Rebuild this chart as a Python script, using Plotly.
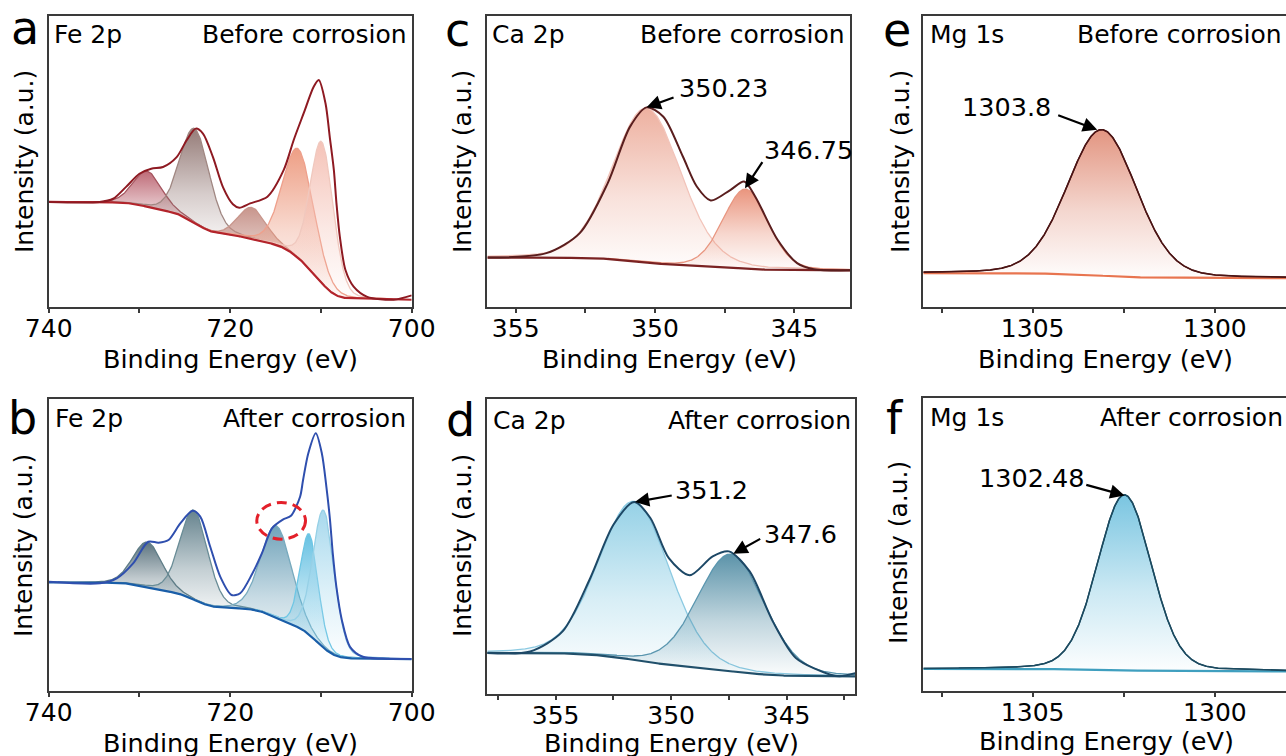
import numpy as np
import plotly.graph_objects as go

FIG_W, FIG_H = 1286, 756
FONT = "DejaVu Sans"

# ---------------- data ----------------
# intensities are on an arbitrary 0-100 scale (0 = bottom of frame, 100 = top)

# a: Fe 2p, before corrosion
a_env_x = [740, 734.4, 732.9, 731.5, 730.0, 728.7, 727.4, 725.9, 724.8, 723.8, 723.0, 721.9,
           720.8, 719.7, 719.0, 717.8, 715.9, 714.1, 713.0, 711.9, 710.8, 710.24, 709.5,
           709.03, 708.58, 708.29, 707.92, 707.3, 706.4, 704.9, 702.0, 700]
a_env_y = [36.1, 36.1, 37.2, 41.2, 45.8, 47.5, 48.1, 51.5, 57.3, 61.3, 59.6, 51.5,
           41.2, 35.3, 34.1, 35.6, 37.9, 47.1, 57.4, 66.6, 75.7, 78.0, 70.0,
           58.5, 47.1, 35.6, 24.2, 12.7, 7.0, 3.5, 2.5, 4.0]
a_pk_center = [729.1, 723.9, 717.6, 712.5, 709.9]
a_pk_height = [12.2, 32.4, 10.8, 37.5, 48.5]
a_pk_fwhm = [3.7, 3.8, 3.6, 4.0, 3.0]
a_bg_ends = [36.1, 2.5]

# b: Fe 2p, after corrosion
b_env_x = [740, 734.35, 732.5, 730.7, 729.03, 727.9, 726.8, 725.5, 724.15, 723.3, 722.2, 721.1,
           719.85, 718.9, 717.6, 716.5, 715.4, 714.2, 713.3, 712.3, 711.97, 711.4, 710.57,
           709.9, 709.4, 709.0, 708.7, 708.3, 707.7, 706.8, 705.4, 703.2, 700]
b_env_y = [37.4, 36.9, 38.6, 43.7, 51.1, 50.8, 51.7, 57.4, 61.7, 59.7, 49.4, 39.2,
           32.9, 33.5, 40.0, 47.2, 55.7, 58.7, 60.0, 66.5, 72.2, 81.3, 88.2,
           81.3, 69.9, 58.5, 47.2, 35.7, 24.4, 15.2, 11.8, 11.2, 11.0]
b_pk_center = [729.1, 724.0, 714.9, 711.3, 709.7]
b_pk_height = [15.4, 30.6, 31.5, 34.4, 47.0]
b_pk_fwhm = [3.8, 3.6, 4.0, 2.3, 2.8]
b_bg_ends = [37.2, 11.0]

# c: Ca 2p, before corrosion
c_env_x = [356.0, 353.9, 352.7, 351.7, 350.9, 350.3, 349.7, 349.0, 348.5, 348.0, 347.3,
           346.8, 346.4, 345.6, 344.9, 344.3, 343.0]
c_env_y = [17.0, 18.5, 25.4, 42.5, 61.9, 68.6, 65.4, 51.7, 41.4, 36.6, 40.2,
           43.1, 37.9, 23.1, 15.1, 13.0, 12.6]
c_pk_center = [350.3, 346.75]
c_pk_height = [53.0, 27.3]
c_pk_fwhm = [2.9, 1.9]
c_bg_ends = [17.0, 12.6]

# d: Ca 2p, after corrosion
d_env_x = [358.0, 356.1, 354.7, 353.5, 352.5, 351.6, 350.9, 350.1, 349.2, 348.2, 347.5,
           346.6, 345.6, 344.6, 343.1, 342.7, 342.0]
d_env_y = [13.9, 14.4, 21.2, 39.3, 57.3, 65.0, 59.6, 46.0, 40.2, 46.6, 48.3,
           41.5, 24.6, 12.2, 6.5, 6.0, 7.1]
d_pk_center = [351.6, 347.4]
d_pk_height = [53.7, 39.7]
d_pk_fwhm = [3.6, 3.4]
d_bg_ends = [13.9, 6.0]

# e: Mg 1s, before corrosion
e_pk_center = [1303.1]
e_pk_height = [50.2]
e_pk_fwhm = [2.25]
e_bg_ends = [11.6, 9.9]

# f: Mg 1s, after corrosion
f_pk_center = [1302.48]
f_pk_height = [59.8]
f_pk_fwhm = [1.75]
f_bg_ends = [7.6, 6.8]

# peak labels: (text, head x, head y, tail x, tail y, text x, text y, anchor)
c_labels = [("350.23", 350.30, 68.6, 349.28, 72.2, 349.22, 75.1, "left"),
            ("346.75", 346.77, 40.8, 346.11, 50.3, 346.17, 53.9, "left")]
d_labels = [("351.2", 351.57, 65.0, 349.91, 67.3, 349.91, 69.2, "left"),
            ("347.6", 347.31, 47.5, 346.08, 52.8, 346.08, 54.3, "left")]
e_labels = [("1303.8", 1303.23, 60.9, 1304.34, 66.1, 1304.43, 68.9, "right")]
f_labels = [("1302.48", 1302.48, 66.8, 1303.57, 70.5, 1303.53, 72.7, "right")]

# ---------------- helpers ----------------
def pseudo_voigt(x, c, h, w, m=0.15):
    g = np.exp(-4 * np.log(2) * (x - c) ** 2 / w ** 2)
    lor = 1.0 / (1.0 + 4 * (x - c) ** 2 / w ** 2)
    return h * ((1 - m) * g + m * lor)


def shirley(x, comps, b_hi, b_lo):
    total = np.sum(comps, axis=0)
    cum = np.concatenate([[0.0], np.cumsum(0.5 * (total[1:] + total[:-1]) * np.diff(x))])
    return b_lo + (b_hi - b_lo) * cum / cum[-1]


def rgba(c, a):
    return "rgba(%d,%d,%d,%.3f)" % (c[0], c[1], c[2], a)


def px(x):
    return x / FIG_W


def py(y):
    return 1 - y / FIG_H


panels = [
    dict(key="a", ax="", xr=[740, 700], xd=[48.7, 411.7], yd=[16, 307],
         major=[740, 720, 700], minor=[730, 710],
         centers=a_pk_center, heights=a_pk_height, fwhm=a_pk_fwhm, bg=a_bg_ends,
         env=(a_env_x, a_env_y),
         fills=[(185, 95, 108), (140, 112, 108), (195, 140, 130), (236, 150, 122), (244, 190, 178)],
         lines=[(165, 85, 95), (160, 135, 130), (200, 150, 140), (238, 160, 140), (240, 200, 190)],
         env_color="#8e1a22", bg_color="#b3242b", mirror_y=True),
    dict(key="b", ax="2", xr=[740, 700], xd=[48.7, 411.7], yd=[398.7, 691.3],
         major=[740, 720, 700], minor=[730, 710],
         centers=b_pk_center, heights=b_pk_height, fwhm=b_pk_fwhm, bg=b_bg_ends,
         env=(b_env_x, b_env_y),
         fills=[(78, 104, 116), (88, 120, 132), (100, 155, 180), (90, 188, 224), (160, 214, 236)],
         lines=[(95, 125, 135), (105, 140, 150), (120, 170, 190), (110, 198, 228), (150, 208, 230)],
         env_color="#2f4fae", bg_color="#1a5ea8", mirror_y=True),
    dict(key="c", ax="3", xr=[356.02, 343.0], xd=[487.3, 850], yd=[16, 307],
         major=[355, 350, 345], minor=[352.5, 347.5],
         centers=c_pk_center, heights=c_pk_height, fwhm=c_pk_fwhm, bg=c_bg_ends,
         env=(c_env_x, c_env_y),
         fills=[(236, 170, 152), (232, 140, 115)],
         lines=[(242, 196, 186), (232, 150, 128)],
         env_color="#5a1e1e", bg_color="#7a2222", mirror_y=True),
    dict(key="d", ax="4", xr=[357.96, 342.04], xd=[487.3, 855], yd=[398.7, 694],
         major=[355, 350, 345], minor=[357.5, 352.5, 347.5, 342.5],
         centers=d_pk_center, heights=d_pk_height, fwhm=d_pk_fwhm, bg=d_bg_ends,
         env=(d_env_x, d_env_y),
         fills=[(140, 205, 228), (78, 138, 162)],
         lines=[(140, 202, 226), (90, 150, 175)],
         env_color="#1d4866", bg_color="#21506b", mirror_y=True),
    dict(key="e", ax="5", xr=[1308.0, 1298.05], xd=[923.3, 1286], yd=[16, 307],
         major=[1305, 1300], minor=[1307.5, 1302.5],
         centers=e_pk_center, heights=e_pk_height, fwhm=e_pk_fwhm, bg=e_bg_ends,
         env=None,
         fills=[(224, 140, 118)], lines=[(90, 25, 25)],
         env_color="#4a1414", bg_color="#e8744f", mirror_y=False),
    dict(key="f", ax="6", xr=[1308.0, 1298.05], xd=[923.3, 1286], yd=[398, 691.3],
         major=[1305, 1300], minor=[1307.5, 1302.5],
         centers=f_pk_center, heights=f_pk_height, fwhm=f_pk_fwhm, bg=f_bg_ends,
         env=None,
         fills=[(110, 192, 222)], lines=[(25, 70, 90)],
         env_color="#1b4a60", bg_color="#3f9fbf", mirror_y=False),
]

fig = go.Figure()
layout = dict(width=FIG_W, height=FIG_H, autosize=False,
              margin=dict(l=0, r=0, t=0, b=0, pad=0, autoexpand=False),
              paper_bgcolor="white", plot_bgcolor="white", showlegend=False,
              font=dict(family=FONT, color="black"))

AX_COLOR = "#3a3a3a"
for p in panels:
    xa, ya = "x" + p["ax"], "y" + p["ax"]
    lo, hi = min(p["xr"]), max(p["xr"])
    grid = np.linspace(lo, hi, 900)
    comps = [pseudo_voigt(grid, c, h, w) for c, h, w in zip(p["centers"], p["heights"], p["fwhm"])]
    bg = shirley(grid, comps, p["bg"][0], p["bg"][1])

    for i, comp in enumerate(comps):
        c, w = p["centers"][i], p["fwhm"][i]
        sel = (grid > c - 2.6 * w) & (grid < c + 2.6 * w)
        fig.add_trace(go.Scatter(x=grid[sel], y=bg[sel], mode="lines", line=dict(width=0),
                                 hoverinfo="skip", xaxis=xa, yaxis=ya))
        fig.add_trace(go.Scatter(
            x=grid[sel], y=(bg + comp)[sel], mode="lines", fill="tonexty",
            fillgradient=dict(type="vertical",
                              colorscale=[[0, rgba(p["fills"][i], 0.02)],
                                          [0.45, rgba(p["fills"][i], 0.35)],
                                          [1, rgba(p["fills"][i], 0.92)]]),
            line=dict(color=rgba(p["lines"][i], 1), width=1.3),
            hoverinfo="skip", xaxis=xa, yaxis=ya))

    fig.add_trace(go.Scatter(x=grid, y=bg, mode="lines", line=dict(color=p["bg_color"], width=2.2),
                             hoverinfo="skip", xaxis=xa, yaxis=ya))
    if p["env"] is not None:
        fig.add_trace(go.Scatter(x=p["env"][0], y=p["env"][1], mode="lines",
                                 line=dict(color=p["env_color"], width=2, shape="spline", smoothing=0.8),
                                 hoverinfo="skip", xaxis=xa, yaxis=ya))
    else:
        fig.add_trace(go.Scatter(x=grid, y=bg + np.sum(comps, axis=0), mode="lines",
                                 line=dict(color=p["env_color"], width=1.6),
                                 hoverinfo="skip", xaxis=xa, yaxis=ya))

    xname = "xaxis" + p["ax"]
    yname = "yaxis" + p["ax"]
    layout[xname] = dict(domain=[px(p["xd"][0]), px(p["xd"][1])], range=p["xr"], anchor=ya,
                         automargin=False,
                         showline=True, mirror=True, linecolor=AX_COLOR, linewidth=1.5,
                         ticks="outside", ticklen=4, tickwidth=1.5, tickcolor=AX_COLOR,
                         tickvals=p["major"], ticktext=[str(v) for v in p["major"]],
                         ticklabelstandoff=-6,
                         minor=dict(tickvals=p["minor"], ticks="outside", ticklen=4,
                                    tickwidth=1.5, tickcolor=AX_COLOR),
                         tickfont=dict(size=25, family=FONT, color="black"),
                         showgrid=False, zeroline=False)
    layout[yname] = dict(domain=[py(p["yd"][1]), py(p["yd"][0])], range=[0, 100], anchor=xa,
                         automargin=False,
                         showline=True, mirror=p["mirror_y"], linecolor=AX_COLOR, linewidth=1.5,
                         showticklabels=False, ticks="", showgrid=False, zeroline=False)

annotations = []


def txt(text, x, y, size, xanchor="center", yanchor="middle", angle=0):
    annotations.append(dict(text=text, x=px(x), y=py(y), xref="paper", yref="paper",
                            xanchor=xanchor, yanchor=yanchor, showarrow=False, textangle=angle,
                            font=dict(size=size, family=FONT, color="black")))


# panel letters
for t, x, y in [("a", 25, 28), ("b", 22, 418), ("c", 457, 30), ("d", 460, 420),
                ("e", 897, 30), ("f", 895, 418)]:
    txt(t, x, y, 46)

# element and state labels
for t, x, y in [("Fe 2p", 52, 35), ("Fe 2p", 53, 418), ("Ca 2p", 490, 35), ("Ca 2p", 491, 420),
                ("Mg 1s", 928, 35), ("Mg 1s", 928, 417)]:
    txt(t, x, y, 25, xanchor="left")
for t, x, y in [("Before corrosion", 409, 35), ("After corrosion", 408, 418),
                ("Before corrosion", 847, 35), ("After corrosion", 853, 420),
                ("Before corrosion", 1284, 35), ("After corrosion", 1285, 417)]:
    txt(t, x, y, 25, xanchor="right")

# axis titles
for x, y in [(230, 359), (669, 359), (1105, 359), (230, 743), (671, 743), (1106, 741)]:
    txt("Binding Energy (eV)", x, y, 25.5)
for x, y in [(24, 162), (462, 162), (900, 162), (23, 546), (462, 546), (898, 553)]:
    txt("Intensity (a.u.)", x, y, 25, angle=-90)

# peak position labels with arrows
for ax_id, labels in [("3", c_labels), ("4", d_labels), ("5", e_labels), ("6", f_labels)]:
    for (t, hx, hy, tx, ty, lx, ly, anc) in labels:
        annotations.append(dict(text="", x=hx, y=hy, ax=tx, ay=ty,
                                xref="x" + ax_id, yref="y" + ax_id,
                                axref="x" + ax_id, ayref="y" + ax_id,
                                showarrow=True, arrowhead=2, arrowsize=1.3, arrowwidth=2.2,
                                arrowcolor="black", standoff=0, startstandoff=0))
        annotations.append(dict(text=t, x=lx, y=ly, xref="x" + ax_id, yref="y" + ax_id,
                                xanchor=anc, yanchor="middle", showarrow=False,
                                font=dict(size=25.5, family=FONT, color="black")))

layout["annotations"] = annotations

# red dashed ellipse marking the shoulder in panel b
layout["shapes"] = [dict(type="circle", xref="x2", yref="y2", x0=717.07, x1=711.7, y0=52.0, y1=64.5,
                         line=dict(color="#e3202a", width=3, dash="10px,6px"))]

fig.update_layout(**layout)
fig.write_html("out.html", config={"displayModeBar": False},
               post_script="document.body.style.margin='0';document.body.style.overflow='hidden';")
